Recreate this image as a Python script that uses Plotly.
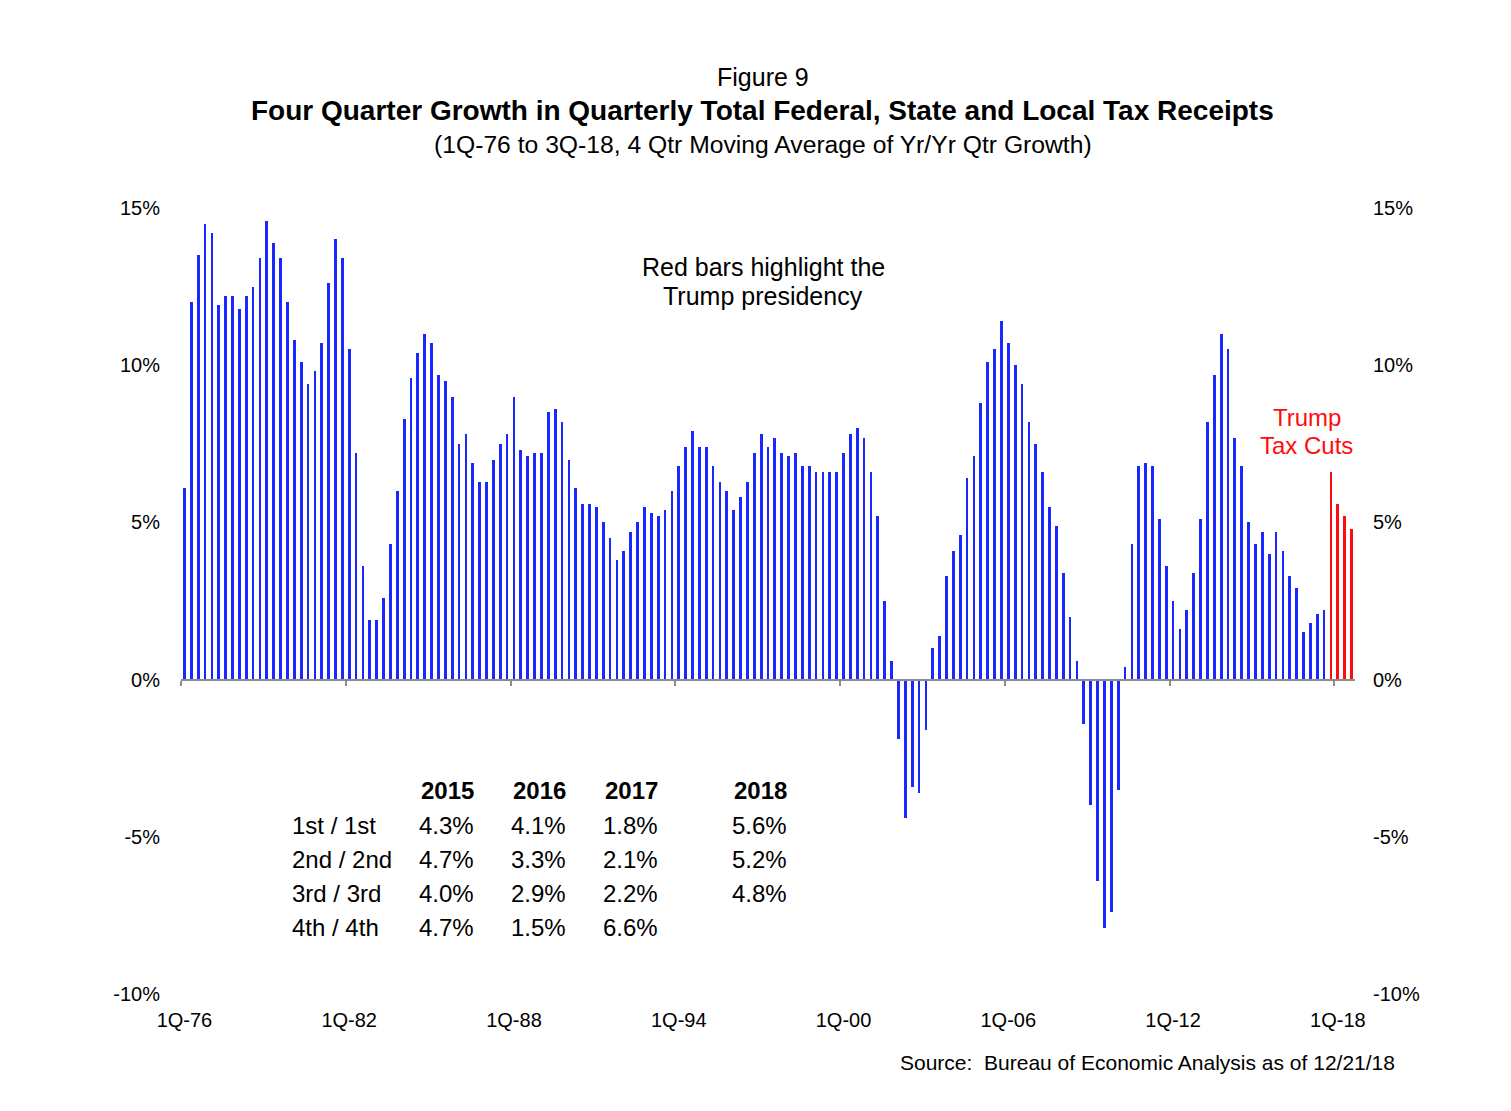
import plotly.graph_objects as go

# ---------------- data ----------------
start_year, end_year, end_quarter = 1976, 2018, 3
quarter_labels = []
for yr in range(start_year, end_year + 1):
    for q in range(1, 5):
        if yr == end_year and q > end_quarter:
            break
        quarter_labels.append(f"{q}Q-{str(yr)[2:]}")

# 4 Qtr moving average of Yr/Yr quarterly growth (%), 1Q-76 .. 3Q-18
growth = [
    6.1, 12.0, 13.5, 14.5, 14.2, 11.9, 12.2, 12.2, 11.8, 12.2,
    12.5, 13.4, 14.6, 13.9, 13.4, 12.0, 10.8, 10.1, 9.4, 9.8,
    10.7, 12.6, 14.0, 13.4, 10.5, 7.2, 3.6, 1.9, 1.9, 2.6,
    4.3, 6.0, 8.3, 9.6, 10.4, 11.0, 10.7, 9.7, 9.5, 9.0,
    7.5, 7.8, 6.9, 6.3, 6.3, 7.0, 7.5, 7.8, 9.0, 7.3,
    7.1, 7.2, 7.2, 8.5, 8.6, 8.2, 7.0, 6.1, 5.6, 5.6,
    5.5, 5.0, 4.5, 3.8, 4.1, 4.7, 5.0, 5.5, 5.3, 5.2,
    5.4, 6.0, 6.8, 7.4, 7.9, 7.4, 7.4, 6.8, 6.3, 6.0,
    5.4, 5.8, 6.3, 7.2, 7.8, 7.4, 7.7, 7.2, 7.1, 7.2,
    6.8, 6.8, 6.6, 6.6, 6.6, 6.6, 7.2, 7.8, 8.0, 7.7,
    6.6, 5.2, 2.5, 0.6, -1.9, -4.4, -3.4, -3.6, -1.6, 1.0,
    1.4, 3.3, 4.1, 4.6, 6.4, 7.1, 8.8, 10.1, 10.5, 11.4,
    10.7, 10.0, 9.4, 8.2, 7.5, 6.6, 5.5, 4.9, 3.4, 2.0,
    0.6, -1.4, -4.0, -6.4, -7.9, -7.4, -3.5, 0.4, 4.3, 6.8,
    6.9, 6.8, 5.1, 3.6, 2.5, 1.6, 2.2, 3.4, 5.1, 8.2,
    9.7, 11.0, 10.5, 7.7, 6.8, 5.0, 4.3, 4.7, 4.0, 4.7,
    4.1, 3.3, 2.9, 1.5, 1.8, 2.1, 2.2, 6.6, 5.6, 5.2,
    4.8,
]
red_start_label = "4Q-17"

tick_labels = ["1Q-76", "1Q-82", "1Q-88", "1Q-94", "1Q-00", "1Q-06", "1Q-12", "1Q-18"]
y_ticks = [-10, -5, 0, 5, 10, 15]
y_range = [-10, 15]

table_years = ["2015", "2016", "2017", "2018"]
table_rows = ["1st / 1st", "2nd / 2nd", "3rd / 3rd", "4th / 4th"]
col_2015 = ["4.3%", "4.7%", "4.0%", "4.7%"]
col_2016 = ["4.1%", "3.3%", "2.9%", "1.5%"]
col_2017 = ["1.8%", "2.1%", "2.2%", "6.6%"]
col_2018 = ["5.6%", "5.2%", "4.8%", ""]

# ---------------- layout geometry ----------------
W, H = 1511, 1111
L, R, T, B = 181, 1355, 208, 994
FONT = "Liberation Sans, Arial, sans-serif"
BLUE = "#1a28ff"
RED = "#ff0d0d"
GREY = "#8c8c8c"
BAR_W = 0.4


def px(x):
    return (x - L) / (R - L)


def py(y):
    return (B - y) / (B - T)


n = len(growth)
red_i = quarter_labels.index(red_start_label)
tickvals = [quarter_labels.index(t) for t in tick_labels]
y_text = [f"{v}%" for v in y_ticks]

blue_x = list(range(0, red_i))
red_x = list(range(red_i, n))

fig = go.Figure()
fig.add_trace(go.Bar(
    x=blue_x, y=growth[:red_i], width=BAR_W,
    marker=dict(color=BLUE, line=dict(width=0)),
    customdata=quarter_labels[:red_i],
    hovertemplate="%{customdata}: %{y:.1f}%<extra></extra>",
    showlegend=False, xaxis="x", yaxis="y",
))
fig.add_trace(go.Bar(
    x=red_x, y=growth[red_i:], width=BAR_W,
    marker=dict(color=RED, line=dict(width=0)),
    customdata=quarter_labels[red_i:n],
    hovertemplate="%{customdata}: %{y:.1f}%<extra></extra>",
    showlegend=False, xaxis="x2", yaxis="y2",
))

xr = [-0.5, n - 0.5]
fig.update_layout(
    width=W, height=H,
    margin=dict(l=L, r=W - R, t=T, b=H - B),
    paper_bgcolor="white", plot_bgcolor="white",
    font=dict(family=FONT, color="black", size=20),
    bargap=0,
    xaxis=dict(
        range=xr, tickmode="array", tickvals=tickvals, ticktext=tick_labels,
        showgrid=False, zeroline=False, showline=False, ticks="",
        tickfont=dict(size=20), ticklabelstandoff=12, fixedrange=True,
    ),
    xaxis2=dict(
        overlaying="x", anchor="free", position=(0 - y_range[0]) / (y_range[1] - y_range[0]),
        range=xr, tickmode="array", tickvals=[v - 0.5 for v in tickvals],
        showticklabels=False, ticks="outside", ticklen=5, tickwidth=2, tickcolor=GREY,
        showline=True, linecolor=GREY, linewidth=2, showgrid=False, zeroline=False,
        side="bottom", layer="above traces",
    ),
    yaxis=dict(
        range=y_range, tickmode="array", tickvals=y_ticks, ticktext=y_text,
        showgrid=False, zeroline=False, showline=False, ticks="",
        ticklabelstandoff=20, tickfont=dict(size=20),
    ),
    yaxis2=dict(
        overlaying="y", side="right", anchor="x2", range=y_range, tickmode="array",
        tickvals=y_ticks, ticktext=y_text, showgrid=False, zeroline=False,
        showline=False, ticks="", ticklabelstandoff=17, tickfont=dict(size=20),
    ),
)

ann = []


def add_text(text, x, y, size=24, bold=False, color="black", xanchor="center"):
    t = f"<b>{text}</b>" if bold else text
    ann.append(dict(text=t, x=px(x), y=py(y), xref="paper", yref="paper",
                    xanchor=xanchor, yanchor="middle", showarrow=False,
                    font=dict(family=FONT, size=size, color=color)))


add_text("Figure 9", 763, 77, size=25)
add_text("Four Quarter Growth in Quarterly Total Federal, State and Local Tax Receipts",
         762, 110, size=28, bold=True)
add_text("(1Q-76 to 3Q-18, 4 Qtr Moving Average of Yr/Yr Qtr Growth)", 763, 145, size=24.7)
add_text("Red bars highlight the", 763, 267, size=25)
add_text("Trump presidency", 763, 296, size=25)
add_text("Trump", 1307, 417, size=24, color=RED)
add_text("Tax Cuts", 1306, 445, size=24, color=RED)

row_y = [825, 859, 893, 927]
col_right = [476, 568, 660, 789]
for yr_lbl, xr_ in zip(table_years, col_right):
    add_text(yr_lbl, xr_, 790, size=24, bold=True, xanchor="right")
for lbl, yy in zip(table_rows, row_y):
    add_text(lbl, 290, yy, size=24, xanchor="left")
for col, xr_ in zip([col_2015, col_2016, col_2017, col_2018], col_right):
    for v, yy in zip(col, row_y):
        if v:
            add_text(v, xr_, yy, size=24, xanchor="right")

add_text("Source:  Bureau of Economic Analysis as of 12/21/18", 1397, 1062, size=21,
         xanchor="right")

fig.update_layout(annotations=ann)
fig.write_html("out.html")
